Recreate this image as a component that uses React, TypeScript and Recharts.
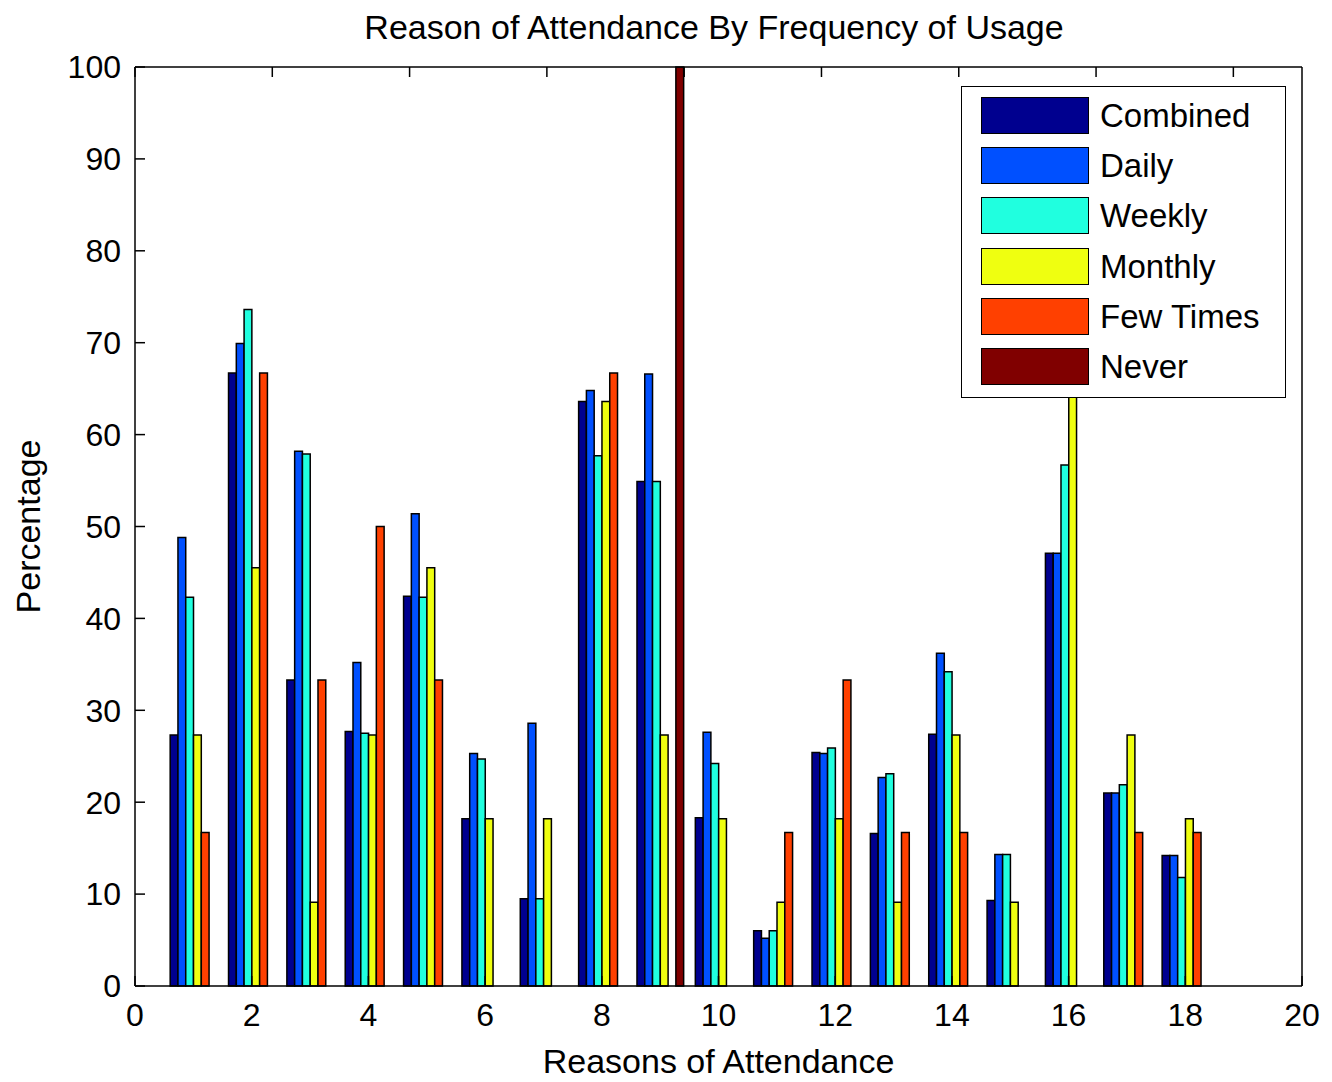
import { BarChart, Bar, XAxis, YAxis, Legend } from "recharts";

const FONT = '"Liberation Sans", Arial, sans-serif';

// reason index on the x axis
const reasons = [1, 2, 3, 4, 5, 6, 7, 8, 9, 10, 11, 12, 13, 14, 15, 16, 17, 18];

const seriesNames = ["Combined", "Daily", "Weekly", "Monthly", "Few Times", "Never"];
const seriesColors = ["#00008f", "#0050ff", "#20ffdf", "#efff10", "#ff4000", "#800000"];

// percentages, one value per reason
const combined = [27.3, 66.7, 33.3, 27.7, 42.4, 18.2, 9.5, 63.6, 54.9, 18.3, 6.0, 25.4, 16.6, 27.4, 9.3, 47.1, 21.0, 14.2];
const daily = [48.8, 69.9, 58.2, 35.2, 51.4, 25.3, 28.6, 64.8, 66.6, 27.6, 5.2, 25.3, 22.7, 36.2, 14.3, 47.1, 21.0, 14.2];
const weekly = [42.3, 73.6, 57.9, 27.5, 42.3, 24.7, 9.5, 57.7, 54.9, 24.2, 6.0, 25.9, 23.1, 34.2, 14.3, 56.7, 21.9, 11.8];
const monthly = [27.3, 45.5, 9.1, 27.3, 45.5, 18.2, 18.2, 63.6, 27.3, 18.2, 9.1, 18.2, 9.1, 27.3, 9.1, 72.7, 27.3, 18.2];
const fewTimes = [16.7, 66.7, 33.3, 50.0, 33.3, 0, 0, 66.7, 0, 0, 16.7, 33.3, 16.7, 16.7, 0, 0, 16.7, 16.7];
const never = [0, 0, 0, 0, 0, 0, 0, 0, 100, 0, 0, 0, 0, 0, 0, 0, 0, 0];

const xTicks = [0, 2, 4, 6, 8, 10, 12, 14, 16, 18, 20];
const yTicks = [0, 10, 20, 30, 40, 50, 60, 70, 80, 90, 100];

const seriesValues = [combined, daily, weekly, monthly, fewTimes, never];

const rows = reasons.map((r, i) => {
  const row: Record<string, number> = { reason: r };
  seriesNames.forEach((name, s) => {
    row[name] = seriesValues[s][i];
  });
  return row;
});

function LegendBox(props: any) {
  // keep the series order, Recharts sorts the payload by name
  const payload = [...(props.payload || [])].sort(
    (a: any, b: any) => seriesNames.indexOf(a.value) - seriesNames.indexOf(b.value)
  );
  return (
    <div
      style={{
        width: 325,
        height: 312,
        boxSizing: "border-box",
        border: "1.5px solid #000",
        background: "#fff",
        padding: "3px 0 0 19px",
        fontFamily: FONT,
      }}
    >
      {payload.map((p: any) => (
        <div key={p.value} style={{ display: "flex", alignItems: "center", height: 50.3 }}>
          <span
            style={{
              display: "inline-block",
              width: 108,
              height: 37,
              boxSizing: "border-box",
              background: p.color,
              border: "1.5px solid #000",
            }}
          />
          <span style={{ marginLeft: 11, fontSize: 33, color: "#000", lineHeight: 1 }}>{p.value}</span>
        </div>
      ))}
    </div>
  );
}

export default function App() {
  const axisStroke = { stroke: "#000", strokeWidth: 1.5 };
  return (
    <div style={{ position: "absolute", left: 0, top: 0, width: 1332, height: 1082, background: "#fff" }}>
      <div
        style={{
          position: "absolute",
          left: 714,
          top: 10,
          transform: "translateX(-50%)",
          whiteSpace: "nowrap",
          fontFamily: FONT,
          fontSize: 34,
          lineHeight: "34px",
          color: "#000",
        }}
      >
        Reason of Attendance By Frequency of Usage
      </div>
      <BarChart
        width={1332}
        height={1082}
        data={rows}
        margin={{ top: 67, right: 30, bottom: 0, left: 0 }}
        barGap={0}
        barSize={7.78}
      >
        <XAxis
          dataKey="reason"
          type="number"
          domain={[0, 20]}
          ticks={xTicks}
          interval={0}
          height={96}
          tickSize={-10}
          tickMargin={27}
          axisLine={axisStroke}
          tickLine={axisStroke}
          tick={{ fill: "#000", fontSize: 32, fontFamily: FONT }}
          label={{
            value: "Reasons of Attendance",
            position: "insideBottom",
            offset: 9,
            fill: "#000",
            fontSize: 34,
            fontFamily: FONT,
          }}
        />
        <XAxis
          xAxisId="top"
          orientation="top"
          type="number"
          domain={[0, 20]}
          ticks={xTicks}
          interval={0}
          mirror
          tickSize={10}
          tickFormatter={() => ""}
          axisLine={axisStroke}
          tickLine={axisStroke}
        />
        <YAxis
          type="number"
          domain={[0, 100]}
          ticks={yTicks}
          interval={0}
          width={135}
          tickSize={-10}
          tickMargin={24}
          axisLine={axisStroke}
          tickLine={axisStroke}
          tick={{ fill: "#000", fontSize: 32, fontFamily: FONT }}
          label={{
            value: "Percentage",
            angle: -90,
            position: "insideLeft",
            offset: 28,
            fill: "#000",
            fontSize: 34,
            fontFamily: FONT,
            style: { textAnchor: "middle" },
          }}
        />
        <YAxis
          yAxisId="right"
          orientation="right"
          type="number"
          domain={[0, 100]}
          ticks={yTicks}
          interval={0}
          mirror
          tickSize={10}
          tickFormatter={() => ""}
          axisLine={axisStroke}
          tickLine={axisStroke}
        />
        {seriesNames.map((name, i) => (
          <Bar
            key={name}
            dataKey={name}
            name={name}
            fill={seriesColors[i]}
            stroke="#000"
            strokeWidth={1.5}
            isAnimationActive={false}
          />
        ))}
        <Legend
          layout="vertical"
          align="center"
          verticalAlign="middle"
          wrapperStyle={{ left: 961, top: 86, width: 325, height: 312 }}
          content={LegendBox}
        />
      </BarChart>
    </div>
  );
}
